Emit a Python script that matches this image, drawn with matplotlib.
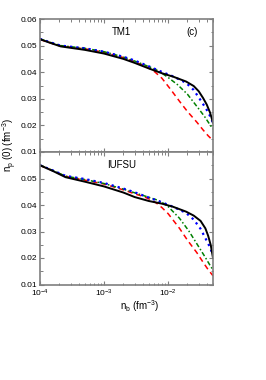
import numpy as np
import matplotlib
matplotlib.use("Agg")
import matplotlib.pyplot as plt
from matplotlib.ticker import LogLocator, MultipleLocator, NullFormatter

plt.rcParams['font.family'] = ['Liberation Sans', 'DejaVu Sans']
plt.rcParams['mathtext.fontset'] = 'custom'
plt.rcParams['mathtext.rm'] = 'Liberation Sans'
plt.rcParams['mathtext.it'] = 'Liberation Sans'

# TM1 panel
tm1_black_n = [1e-4, 1.5e-4, 2.1e-4, 5e-4, 1e-3, 2e-3, 3e-3, 5e-3, 8e-3, 0.012, 0.019, 0.025, 0.030, 0.035, 0.040, 0.045, 0.050]
tm1_black = [0.0524, 0.0509, 0.0497, 0.0484, 0.0470, 0.0450, 0.0435, 0.0414, 0.0396, 0.0383, 0.0365, 0.0348, 0.0328, 0.0303, 0.0278, 0.0248, 0.0210]
tm1_blue_n = [1e-4, 1.5e-4, 2.1e-4, 5e-4, 1e-3, 2e-3, 3e-3, 5e-3, 8e-3, 0.012, 0.019, 0.025, 0.033, 0.040, 0.045, 0.050]
tm1_blue = [0.0525, 0.0511, 0.0500, 0.0490, 0.0477, 0.0458, 0.0444, 0.0422, 0.0401, 0.0384, 0.0360, 0.0333, 0.0290, 0.0258, 0.0235, 0.0210]
tm1_green_n = [1e-4, 1.5e-4, 2.1e-4, 5e-4, 1e-3, 2e-3, 3e-3, 5e-3, 6.5e-3, 8e-3, 0.010, 0.014, 0.020, 0.030, 0.037, 0.045, 0.050]
tm1_green = [0.0525, 0.0511, 0.0500, 0.0490, 0.0477, 0.0457, 0.0442, 0.0421, 0.0409, 0.0396, 0.0380, 0.0353, 0.0317, 0.0262, 0.0233, 0.0202, 0.0186]
tm1_red_n = [1e-4, 1.5e-4, 2.1e-4, 5e-4, 1e-3, 2e-3, 3e-3, 4e-3, 5e-3, 6.2e-3, 8e-3, 0.0107, 0.0153, 0.020, 0.028, 0.035, 0.042, 0.050]
tm1_red = [0.0523, 0.0509, 0.0498, 0.0488, 0.0475, 0.0455, 0.0439, 0.0427, 0.0415, 0.0401, 0.0377, 0.0338, 0.0288, 0.0252, 0.0212, 0.0183, 0.0161, 0.0143]

# IUFSU panel
iu_black_n = [1e-4, 1.6e-4, 2.5e-4, 5e-4, 1e-3, 2e-3, 3e-3, 5e-3, 8e-3, 0.012, 0.019, 0.025, 0.032, 0.038, 0.042, 0.046, 0.050]
iu_black = [0.0550, 0.0528, 0.0505, 0.0488, 0.0470, 0.0447, 0.0430, 0.0415, 0.0405, 0.0393, 0.0375, 0.0360, 0.0340, 0.0312, 0.0284, 0.0250, 0.0200]
iu_blue_n = [1e-4, 1.6e-4, 2.5e-4, 5e-4, 1e-3, 2e-3, 3e-3, 5e-3, 8e-3, 0.012, 0.019, 0.025, 0.032, 0.038, 0.045, 0.050]
iu_blue = [0.0550, 0.0530, 0.0510, 0.0498, 0.0483, 0.0462, 0.0448, 0.0428, 0.0410, 0.0393, 0.0370, 0.0345, 0.0310, 0.0275, 0.0240, 0.0210]
iu_green_n = [1e-4, 1.6e-4, 2.5e-4, 5e-4, 1e-3, 2e-3, 3e-3, 5e-3, 6.5e-3, 8e-3, 0.010, 0.015, 0.021, 0.030, 0.038, 0.045, 0.050]
iu_green = [0.0550, 0.0530, 0.0509, 0.0496, 0.0481, 0.0460, 0.0446, 0.0429, 0.0420, 0.0410, 0.0394, 0.0350, 0.0302, 0.0242, 0.0202, 0.0172, 0.0155]
iu_red_n = [1e-4, 1.6e-4, 2.5e-4, 5e-4, 1e-3, 2e-3, 3e-3, 4e-3, 5e-3, 6.5e-3, 8e-3, 0.010, 0.015, 0.020, 0.028, 0.035, 0.042, 0.050]
iu_red = [0.0549, 0.0529, 0.0508, 0.0494, 0.0479, 0.0457, 0.0442, 0.0433, 0.0423, 0.0408, 0.0390, 0.0367, 0.0312, 0.0267, 0.0220, 0.0184, 0.0156, 0.0133]

panels = [
    ("TM1", tm1_black_n, tm1_black, tm1_blue_n, tm1_blue, tm1_green_n, tm1_green, tm1_red_n, tm1_red),
    ("IUFSU", iu_black_n, iu_black, iu_blue_n, iu_blue, iu_green_n, iu_green, iu_red_n, iu_red),
]

W, H = 266, 380
fig = plt.figure(figsize=(W / 100, H / 100), dpi=100)
L, R = 40 / W, 213 / W
ax_top = fig.add_axes([L, 1 - 152 / H, R - L, (152 - 19) / H])
ax_bot = fig.add_axes([L, 1 - 284.5 / H, R - L, (284.5 - 152) / H])

gray = '#7f7f7f'
for ax, p in zip([ax_top, ax_bot], panels):
    name, bn, bv, un, uv, gn, gv, rn, rv = p
    ax.plot(rn, rv, color='red', ls=(0, (3.5, 2.5)), lw=1.1)
    ax.plot(gn, gv, color='green', ls=(0, (3, 1.5, 1, 1.5)), lw=1.1)
    ax.plot(un, uv, color='blue', ls=(0, (1, 1.8)), lw=1.6)
    ax.plot(bn, bv, color='black', lw=1.4)
    ax.set_xscale('log')
    ax.set_xlim(1e-4, 0.05)
    ax.set_ylim(0.01, 0.06)
    ax.yaxis.set_major_locator(MultipleLocator(0.01))
    ax.yaxis.set_minor_locator(MultipleLocator(0.005))
    ax.xaxis.set_minor_locator(LogLocator(base=10, subs=np.arange(2, 10), numticks=10))
    ax.xaxis.set_minor_formatter(NullFormatter())
    ax.tick_params(which='both', direction='in', top=True, right=True, color=gray, labelsize=6, pad=2)
    ax.tick_params(which='major', length=3, width=0.8)
    ax.tick_params(which='minor', length=1.8, width=0.7)
    for s in ax.spines.values():
        s.set_color(gray)
        s.set_linewidth(1.2)
    ax.text(0.47, 0.9, name, transform=ax.transAxes, ha='center', va='center', fontsize=7)

ax_top.tick_params(labelbottom=False)
ax_top.set_yticks([0.01, 0.02, 0.03, 0.04, 0.05, 0.06])
ax_top.set_yticklabels(['0.01', '0.02', '0.03', '0.04', '0.05', '0.06'])
ax_bot.set_yticks([0.01, 0.02, 0.03, 0.04, 0.05, 0.06])
ax_bot.set_yticklabels(['0.01', '0.02', '0.03', '0.04', '0.05', ''])
ax_top.text(0.88, 0.9, "(c)", transform=ax_top.transAxes, ha='center', va='center', fontsize=7)

fig.text(10 / W, 1 - 145 / H, r"n$_p$ (0) (fm$^{-3}$)", rotation=90, ha='center', va='center', fontsize=7)
fig.text(140 / W, 1 - 306 / H, r"n$_b$ (fm$^{-3}$)", ha='center', va='center', fontsize=7)

fig.savefig("out.png", dpi=100)
